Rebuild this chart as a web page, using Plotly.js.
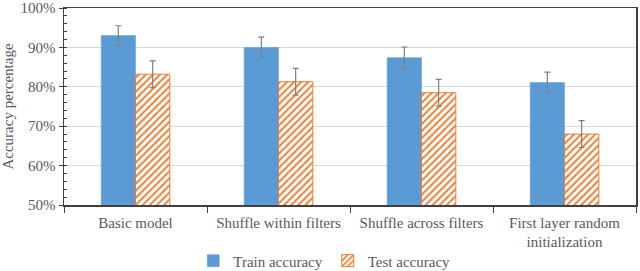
<!DOCTYPE html>
<html><head><meta charset="utf-8">
<script src="https://cdn.plot.ly/plotly-3.0.1.min.js"></script>
<style>html,body{margin:0;padding:0;background:#fff}#chart{width:640px;height:271px}</style>
</head><body><div id="chart"></div>
<script>
const categories = ["Basic model", "Shuffle within filters", "Shuffle across filters", "First layer random<br>initialization"];
const trainAcc = [0.930, 0.900, 0.874, 0.811];
const trainErr = [0.025, 0.026, 0.027, 0.026];
const testAcc = [0.832, 0.813, 0.785, 0.680];
const testErr = [0.034, 0.034, 0.034, 0.034];
const yTicks = [0.5, 0.6, 0.7, 0.8, 0.9, 1.0];
const yTickText = ["50%", "60%", "70%", "80%", "90%", "100%"];

const font = {family: "Liberation Serif, Times New Roman, serif", size: 15, color: "#595959"};
const data = [
  {type: "bar", name: "Train accuracy", x: categories, y: trainAcc,
   marker: {color: "#5B9BD5", line: {color: "#5B9BD5", width: 0.5}},
   error_y: {type: "data", array: trainErr, visible: true, color: "#7f7f7f", thickness: 1.2, width: 3}},
  {type: "bar", name: "Test accuracy", x: categories, y: testAcc,
   marker: {color: "#ffffff", line: {color: "#ED7D31", width: 1},
            pattern: {shape: "/", fgcolor: "#ED7D31", bgcolor: "#ffffff", size: 5, solidity: 0.4}},
   error_y: {type: "data", array: testErr, visible: true, color: "#7f7f7f", thickness: 1.2, width: 3}}
];
const layout = {
  width: 640, height: 271,
  margin: {l: 64, r: 4, t: 8, b: 66, autoexpand: false},
  paper_bgcolor: "#fff", plot_bgcolor: "#fff",
  font: font,
  barmode: "group", bargap: 0.52, bargroupgap: 0,
  showlegend: true,
  legend: {orientation: "h", xref: "paper", x: 0.455, xanchor: "center", yref: "paper", y: -0.2, yanchor: "top",
           font: font, itemwidth: 30, tracegroupgap: 0},
  xaxis: {type: "category", tickson: "boundaries", ticks: "outside", ticklen: 6, tickcolor: "#404040", automargin: false,
          showline: true, linecolor: "#404040", linewidth: 1.5, mirror: true, ticklabelstandoff: 3,
          tickfont: font, showgrid: false, tickangle: 0},
  yaxis: {range: [0.5, 1.0], tickvals: yTicks, ticktext: yTickText, ticks: "outside", ticklen: 4, tickcolor: "#404040",
          showline: true, linecolor: "#404040", linewidth: 1.5, mirror: true, ticklabeloverflow: "allow", automargin: false,
          gridcolor: "#D9D9D9", gridwidth: 1, tickfont: font, zeroline: false,
          minor: {dtick: 0.02, tick0: 0.5, ticks: "inside", ticklen: 3, tickcolor: "#404040", showgrid: false},
          title: {text: "Accuracy percentage", font: font, standoff: 4}}
};
Plotly.newPlot("chart", data, layout, {displayModeBar: false, staticPlot: true});
</script>
</body></html>
